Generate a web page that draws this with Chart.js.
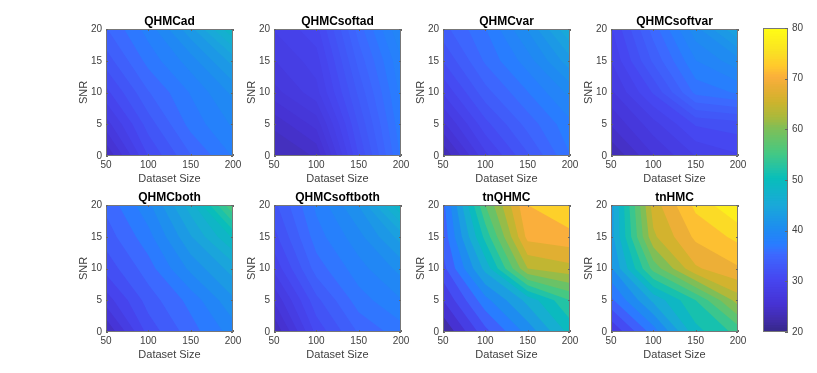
<!DOCTYPE html>
<html><head><meta charset="utf-8">
<script src="https://cdn.jsdelivr.net/npm/chart.js@4/dist/chart.umd.min.js"></script>
<style>html,body{margin:0;padding:0;background:#fff}canvas{position:absolute}</style>
</head><body>
<script>
const datasetSizes = [50,100,150,200];
const snrLevels = [0,5,10,15,20];
const titles = ['QHMCad','QHMCsoftad','QHMCvar','QHMCsoftvar','QHMCboth','QHMCsoftboth','tnQHMC','tnHMC'];
// rows follow snrLevels, columns follow datasetSizes
const QHMCad =      [[24,31,35,38],[27.5,33,37,39.5],[30.5,35,38,41],[33,37,40,44],[35,38.5,43,49]];
const QHMCsoftad =  [[23.5,24.5,31.5,37],[24.6,26.5,32.5,37.5],[26.7,28.5,33.5,38],[27.9,29.3,34.5,38.5],[28.9,30.3,35.5,39.5]];
const QHMCvar =     [[23,29,33,37],[26.5,31.5,35,38],[29.5,34,37,40],[32,36,39,43],[34,37,41,46]];
const QHMCsoftvar = [[23,26.5,29,30],[25.5,28.5,31.5,32],[27.5,31.5,36.5,37.5],[29,34,38.5,40.5],[30,35.5,40.5,44.5]];
const QHMCboth =    [[24,32,36,39.5],[28.5,34,37.5,42],[32,36,41,45],[34,38,44,50],[35.5,40,47,57]];
const QHMCsoftboth =[[23.5,31,35,37],[26.5,33,37,39],[29.5,35.5,38.5,41],[31.5,37,40,44],[33,38,42,49]];
const tnQHMC =      [[22,33,41,50],[28,39,47,55],[33,47,64,66],[35,53,71,72],[36,58,73,76]];
const tnHMC =       [[28,38,50,55],[36,46,54,64],[42,58,68,71],[44,65,72,75],[44,67,75,80]];
const panels = [QHMCad,QHMCsoftad,QHMCvar,QHMCsoftvar,QHMCboth,QHMCsoftboth,tnQHMC,tnHMC];
const colorTicks = [20,30,40,50,60,70,80];
const colorStops = [[20,55,40,140],[22,65,45,170],[25,70,50,210],[30,70,70,240],[35,60,105,255],[37,40,125,255],[40,30,140,240],[45,25,170,215],[50,8,190,185],[52,35,195,165],[55,70,200,130],[60,130,190,85],[62,170,185,60],[65,205,180,45],[67,225,175,50],[70,250,175,60],[72,255,200,45],[75,250,225,35],[80,255,255,20]];

const levelCount = 18;
const FONT = '"Liberation Sans", Arial, sans-serif';
const TEXT = '#404040', FRAME = '#777777';
const lefts = [106,274,443,611], tops = [29,205];
const plotW = 127, plotH = 127, padL = 32, padT = 20, padR = 12, padB = 34;

function cmap(v){
  for(let i=1;i<colorStops.length;i++){
    const a=colorStops[i-1],b=colorStops[i];
    if(v<=b[0]){const t=Math.max(0,(v-a[0])/(b[0]-a[0]));
      return `rgb(${[1,2,3].map(k=>Math.round(a[k]+(b[k]-a[k])*t)).join(',')})`;}
  }
  const l=colorStops[colorStops.length-1];return `rgb(${l[1]},${l[2]},${l[3]})`;
}

const contourPlugin = {
  id:'contour',
  beforeDatasetsDraw(chart){
    const cfg=chart.options.plugins.contour; if(!cfg||!cfg.grid) return;
    const {ctx,scales:{x:sx,y:sy}}=chart, g=cfg.grid;
    const px=x=>sx.getPixelForValue(x), py=y=>sy.getPixelForValue(y);
    const flat=g.flat(), lo=Math.min(...flat), hi=Math.max(...flat);
    ctx.save();
    ctx.beginPath();ctx.rect(chart.chartArea.left,chart.chartArea.top,chart.chartArea.width,chart.chartArea.height);ctx.clip();
    for(let k=0;k<levelCount;k++){
      const L=lo+(hi-lo)*k/levelCount;
      ctx.beginPath();
      for(let r=0;r<snrLevels.length-1;r++)for(let c=0;c<datasetSizes.length-1;c++){
        const q=[[datasetSizes[c],snrLevels[r],g[r][c]],[datasetSizes[c+1],snrLevels[r],g[r][c+1]],
                 [datasetSizes[c+1],snrLevels[r+1],g[r+1][c+1]],[datasetSizes[c],snrLevels[r+1],g[r+1][c]]];
        const poly=[];
        for(let i=0;i<4;i++){
          const a=q[i],b=q[(i+1)%4];
          if(a[2]>=L) poly.push([a[0],a[1]]);
          if((a[2]>=L)!==(b[2]>=L)){const t=(L-a[2])/(b[2]-a[2]);poly.push([a[0]+(b[0]-a[0])*t,a[1]+(b[1]-a[1])*t]);}
        }
        poly.forEach((p,i)=>i?ctx.lineTo(px(p[0]),py(p[1])):ctx.moveTo(px(p[0]),py(p[1])));
        if(poly.length) ctx.closePath();
      }
      ctx.fillStyle=cmap(L);ctx.fill();
    }
    ctx.restore();
  },
  afterDraw(chart){
    const {ctx,chartArea:a,scales:{x:sx,y:sy}}=chart;
    ctx.save();ctx.strokeStyle=FRAME;ctx.lineWidth=1;
    ctx.strokeRect(a.left+.5,a.top+.5,a.width-1,a.height-1);
    const cb=chart.options.plugins.contour&&chart.options.plugins.contour.colorbar;
    ctx.strokeStyle='#666';ctx.beginPath();
    const T=cb?3:2;
    if(!cb) sx.ticks.forEach(t=>{const p=Math.round(sx.getPixelForValue(t.value))+.5;
      ctx.moveTo(p,a.bottom);ctx.lineTo(p,a.bottom-T);ctx.moveTo(p,a.top);ctx.lineTo(p,a.top+T);});
    sy.ticks.forEach(t=>{const p=Math.round(sy.getPixelForValue(t.value))+.5;
      if(!cb){ctx.moveTo(a.left,p);ctx.lineTo(a.left+T,p);}
      ctx.moveTo(a.right,p);ctx.lineTo(a.right-T,p);});
    ctx.stroke();ctx.restore();
  }
};
Chart.register(contourPlugin);

function makeCanvas(l,t,w,h){
  const c=document.createElement('canvas');c.width=w;c.height=h;
  c.style.cssText=`left:${l}px;top:${t}px;width:${w}px;height:${h}px`;
  document.body.appendChild(c);return c;
}

panels.forEach((grid,i)=>{
  const col=i%4,row=Math.floor(i/4);
  const w=padL+plotW+padR,h=padT+plotH+padB;
  const c=makeCanvas(lefts[col]-padL,tops[row]-padT,w,h);
  const pts=[];
  snrLevels.forEach((y,r)=>datasetSizes.forEach((x,k)=>pts.push({x,y,v:grid[r][k]})));
  new Chart(c,{type:'scatter',
    data:{datasets:[{data:pts,pointRadius:0,showLine:false}]},
    options:{responsive:false,animation:false,events:[],
      layout:{padding:{right:padR,left:0,top:0,bottom:0}},
      plugins:{legend:{display:false},tooltip:{enabled:false},
        title:{display:true,fullSize:false,text:titles[i],color:'#000',font:{family:FONT,size:12,weight:'bold',lineHeight:1.2},padding:{top:5,bottom:0.6}},
        contour:{grid}},
      scales:{
        x:{type:'linear',min:datasetSizes[0],max:datasetSizes[3],
          afterFit:s=>{s.height=padB},
          grid:{display:false,drawTicks:false},border:{display:false},
          ticks:{stepSize:50,maxRotation:0,color:TEXT,font:{family:FONT,size:10},padding:3,autoSkip:false},
          title:{display:true,text:'Dataset Size',color:TEXT,font:{family:FONT,size:11},padding:{top:0,bottom:4}}},
        y:{type:'linear',min:snrLevels[0],max:snrLevels[4],
          afterFit:s=>{s.width=padL},
          grid:{display:false,drawTicks:false},border:{display:false},
          ticks:{stepSize:5,color:TEXT,font:{family:FONT,size:10},padding:4,autoSkip:false},
          title:{display:true,text:'SNR',color:TEXT,font:{family:FONT,size:11},padding:{top:3,bottom:0}}}
      }}});
});

// colorbar
(function(){
  const step=0.5, sets=[];
  for(let v=20;v<80;v+=step) sets.push({data:[[v,Math.min(80,v+step*1.6)]],backgroundColor:cmap(v+step/2),borderWidth:0,barPercentage:1,categoryPercentage:1,grouped:false,borderSkipped:false});
  const wPlot=25,hPlot=304,r=29;
  const c=makeCanvas(763,20,wPlot+r,hPlot+8+8);
  new Chart(c,{type:'bar',
    data:{labels:[''],datasets:sets},
    options:{responsive:false,animation:false,events:[],
      layout:{padding:{top:8,bottom:8,left:0,right:0}},
      plugins:{legend:{display:false},tooltip:{enabled:false},contour:{colorbar:true}},
      scales:{
        x:{display:false,grid:{display:false}},
        y:{position:'right',min:colorTicks[0],max:colorTicks[6],
          afterFit:s=>{s.width=r;s.paddingTop=0;s.paddingBottom=0},
          grid:{display:false,drawTicks:false},border:{display:false},
          ticks:{stepSize:10,color:TEXT,font:{family:FONT,size:10},padding:4}}
      }}});
})();
</script>
</body></html>
